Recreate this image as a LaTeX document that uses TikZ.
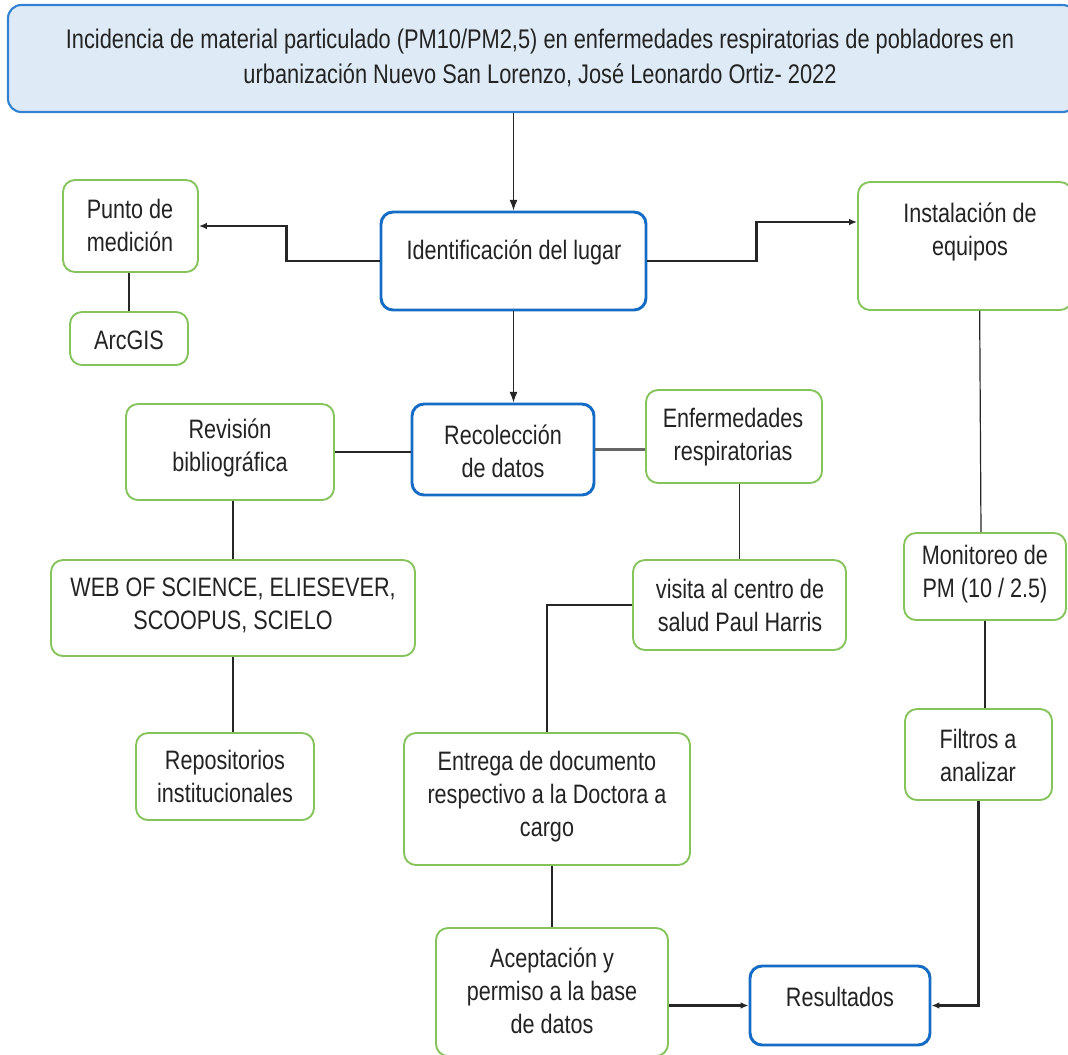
\documentclass[tikz,border=0pt]{standalone}
\usepackage{fontspec}
\setmainfont{Liberation Sans}[FakeStretch=0.81]
\usetikzlibrary{arrows.meta,fit}
\definecolor{bblue}{RGB}{20,108,196}
\definecolor{tblue}{RGB}{50,130,210}
\definecolor{tfill}{RGB}{222,235,247}
\definecolor{ggreen}{RGB}{132,196,90}
\definecolor{txtc}{RGB}{35,35,35}
\begin{document}
\begin{tikzpicture}[x=0.75pt,y=-0.75pt,
 gbox/.style={draw=ggreen,line width=1.4pt,rounded corners=9pt,inner sep=0pt},
 bbox/.style={draw=bblue,line width=2.2pt,rounded corners=9pt,inner sep=0pt},
 txt/.style={align=center,font=\fontsize{20}{24.75}\selectfont,text=txtc,inner sep=0pt},
 con/.style={line width=0.9pt,draw=black!85},
 thick con/.style={line width=1.6pt,draw=black!85},
 arr/.style={con,-{Latex[length=8pt,width=6pt]}},
 thick arr/.style={thick con,-{Latex[length=6pt,width=5pt]}}]
\clip (0,0) rectangle (1068,1054);
\fill[white] (0,0) rectangle (1068,1054);
% boxes
\node[draw=tblue,fill=tfill,line width=1.6pt,rounded corners=10pt,inner sep=0pt,fit={(8,5) (1076,112)}] (title) {};
\node[gbox,fit={(63,180) (198,272)}] (punto) {};
\node[gbox,fit={(70,312) (188,365)}] (arcgis) {};
\node[bbox,fit={(381,212) (646,310)}] (ident) {};
\node[gbox,fit={(858,182) (1072,310)}] (inst) {};
\node[bbox,fit={(412,404) (594,495)}] (recol) {};
\node[gbox,fit={(126,404) (334,500)}] (revis) {};
\node[gbox,fit={(646,390) (822,483)}] (enferm) {};
\node[gbox,fit={(51,560) (415,656)}] (web) {};
\node[gbox,fit={(633,560) (846,650)}] (visita) {};
\node[gbox,fit={(904,533) (1066,620)}] (monit) {};
\node[gbox,fit={(136,733) (314,820)}] (repos) {};
\node[gbox,fit={(404,733) (690,865)}] (entrega) {};
\node[gbox,fit={(905,709) (1052,800)}] (filtros) {};
\node[gbox,fit={(436,928) (668,1056)}] (acep) {};
\node[bbox,fit={(750,966) (930,1045)}] (res) {};
% texts
\node[txt,font=\fontsize{20.2}{26.25}\selectfont] (ttitle) at (540,57.5) {Incidencia de material particulado (PM10/PM2,5) en enfermedades respiratorias de pobladores en\\urbanización Nuevo San Lorenzo, José Leonardo Ortiz- 2022};
\node[txt] (tpunto) at (130,225) {Punto de\\medición};
\node[txt] (tarcgis) at (129,340) {ArcGIS};
\node[txt] (tident) at (514,252) {Identificación del lugar};
\node[txt] (tinst) at (970,232) {Instalación de\\equipos};
\node[txt] (trecol) at (503,451) {Recolección\\de datos};
\node[txt] (trevis) at (230,448) {Revisión\\bibliográfica};
\node[txt] (tenferm) at (733,437) {Enfermedades\\respiratorias};
\node[txt] (tweb) at (233,605) {WEB OF SCIENCE, ELIESEVER,\\SCOOPUS, SCIELO};
\node[txt] (tvisita) at (740,605) {visita al centro de\\salud Paul Harris};
\node[txt] (tmonit) at (985,574) {Monitoreo de\\PM (10 / 2.5)};
\node[txt] (trepos) at (225,776) {Repositorios\\institucionales};
\node[txt] (tentrega) at (547,797) {Entrega de documento\\respectivo a la Doctora a\\cargo};
\node[txt] (tfiltros) at (978,755) {Filtros a\\analizar};
\node[txt] (tacep) at (552,991) {Aceptación y\\permiso a la base\\de datos};
\node[txt] (tres) at (840,997) {Resultados};
% connectors
\draw[arr] (title.south -| ident.north) -- (ident.north);
\draw[thick arr] (ident.west) -- ++(-93,0) |- (punto.east);
\draw[thick arr] (ident.east) -- ++(109,0) |- ([yshift=18pt]inst.west);
\draw[con] (punto.south -| arcgis.north) -- (arcgis.north);
\draw[arr] (ident.south) -- (ident.south |- recol.north);
\draw[thick con] (revis.east) -- (revis.east -| recol.west);
\draw[thick con,draw=black!60] (recol.east) -- (recol.east -| enferm.west);
\draw[con] ([xshift=11pt]inst.south) -- ([xshift=-3pt]monit.north);
\draw[con] (revis.south -| web.north) -- (web.north);
\draw[con] (web.south) -- (web.south |- repos.north);
\draw[con] (enferm.south -| visita.north) -- (visita.north);
\draw[thick con] (visita.west) -| (entrega.north);
\draw[con] (monit.south) -- (monit.south |- filtros.north);
\draw[con] (entrega.south -| acep.north) -- (acep.north);
\draw[thick arr] (acep.east |- res.west) -- (res.west);
\draw[thick arr] (filtros.south) |- (res.east);
\end{tikzpicture}
\end{document}
